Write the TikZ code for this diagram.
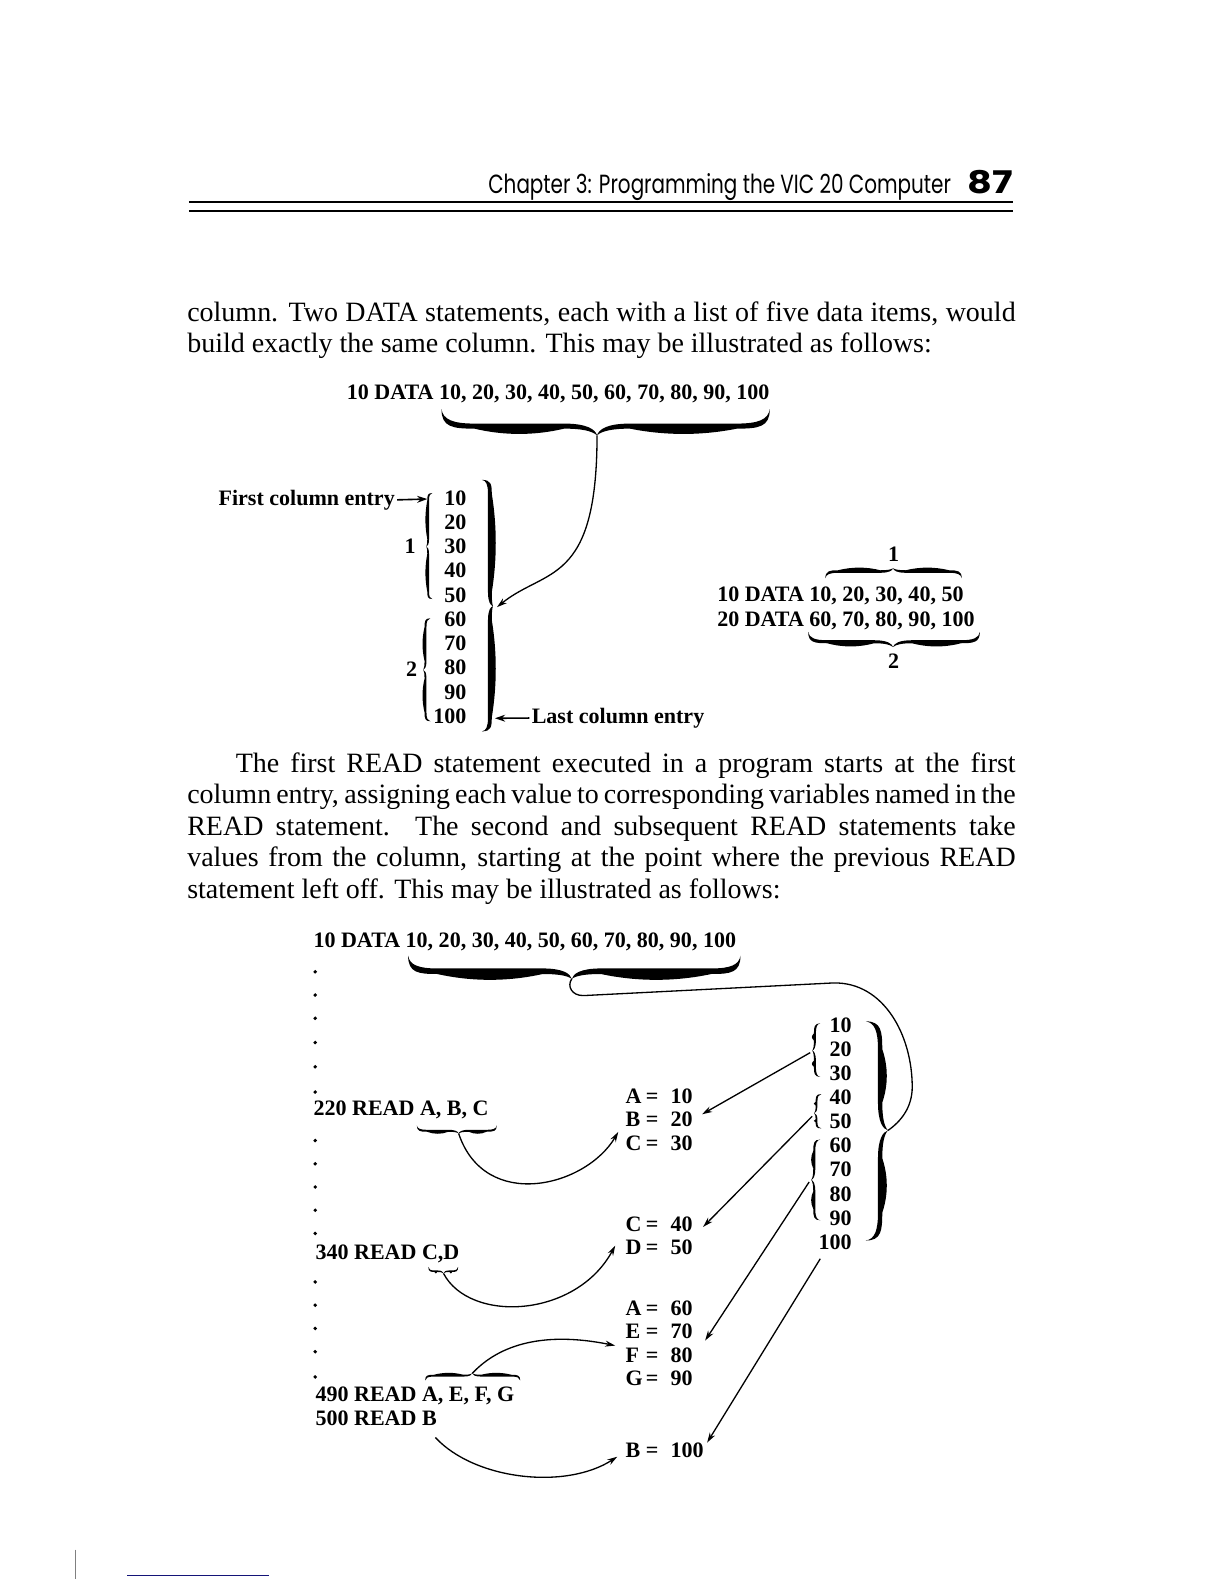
\documentclass[tikz,border=0pt]{standalone}
\usepackage{fontspec}
\setmainfont{Liberation Serif}
\newfontfamily\hdrfont{Poppins}
\usetikzlibrary{arrows.meta,calc}
\definecolor{navyline}{RGB}{20,20,120}

% calligraphic brace in local coords: from (0,0) to (L,0), tip at (M,H), max thickness T
\newcommand\zcbr[4]{%
 \pgfmathsetmacro\zzL{#1}%
 \pgfmathsetmacro\zzM{#2}%
 \pgfmathsetmacro\zzH{#3}%
 \pgfmathsetmacro\zzSg{ifthenelse(\zzH>0,1,-1)}%
 \pgfmathsetmacro\zzS{\zzSg*0.5*(#4)}%
 \pgfmathsetmacro\zzW{\zzSg*0.7*(#4)}%
 \pgfmathsetmacro\zzKa{min(1.25*abs(\zzH),0.4*\zzM)}%
 \pgfmathsetmacro\zzKb{min(1.25*abs(\zzH),0.4*(\zzL-\zzM))}%
 \pgfmathsetmacro\zzY{0.55*\zzH}%
 \pgfmathsetmacro\zzYl{\zzY+\zzS}%
 \pgfmathsetmacro\zzYw{\zzYl+\zzW}%
 \pgfmathsetmacro\zzTa{\zzY+0.5*(\zzH-\zzY)}%
 \pgfmathsetmacro\zzTb{\zzYl+0.3*(\zzH-\zzYl)}%
 \pgfmathsetmacro\zzE{0.5*\zzH+\zzS}%
 \pgfmathsetmacro\zzAa{\zzKa+0.33*(\zzM-2*\zzKa)}%
 \pgfmathsetmacro\zzAb{\zzKa+0.67*(\zzM-2*\zzKa)}%
 \pgfmathsetmacro\zzBa{\zzM+\zzKb+0.33*(\zzL-\zzM-2*\zzKb)}%
 \pgfmathsetmacro\zzBb{\zzM+\zzKb+0.67*(\zzL-\zzM-2*\zzKb)}%
 \fill (0,0) .. controls ({0.05*\zzKa},{0.4*\zzH}) and ({0.35*\zzKa},\zzY) .. (\zzKa,\zzY)
  -- ({\zzM-\zzKa},\zzY) .. controls ({\zzM-0.3*\zzKa},\zzY) and ({\zzM-0.05*\zzKa},\zzTa) .. (\zzM,\zzH)
  .. controls ({\zzM+0.05*\zzKb},\zzTa) and ({\zzM+0.3*\zzKb},\zzY) .. ({\zzM+\zzKb},\zzY)
  -- ({\zzL-\zzKb},\zzY) .. controls ({\zzL-0.35*\zzKb},\zzY) and ({\zzL-0.05*\zzKb},{0.4*\zzH}) .. (\zzL,0)
  .. controls (\zzL,\zzE) and ({\zzL-0.35*\zzKb},\zzYl) .. ({\zzL-\zzKb},\zzYl)
  .. controls (\zzBb,\zzYw) and (\zzBa,\zzYw) .. ({\zzM+\zzKb},\zzYl)
  .. controls ({\zzM+0.5*\zzKb},\zzYl) and ({\zzM+0.15*\zzKb},\zzTb) .. (\zzM,\zzH)
  .. controls ({\zzM-0.15*\zzKa},\zzTb) and ({\zzM-0.5*\zzKa},\zzYl) .. ({\zzM-\zzKa},\zzYl)
  .. controls (\zzAb,\zzYw) and (\zzAa,\zzYw) .. (\zzKa,\zzYl)
  .. controls ({0.35*\zzKa},\zzYl) and (0,\zzE) .. (0,0) -- cycle;
}
% horizontal brace: x1, x2, xtip, y, amp (tip y = y+amp), thickness
\newcommand\hbr[6]{\begin{scope}[shift={(#1,#4)}]\zcbr{(#2)-(#1)}{(#3)-(#1)}{#5}{#6}\end{scope}}
% vertical brace: y1, y2, ytip, x, amp (tip x = x+amp), thickness
\newcommand\vbr[6]{\begin{scope}[shift={(#4,#1)},cm={0,-1,-1,0,(0,0)}]\zcbr{(#2)-(#1)}{(#3)-(#1)}{#5}{#6}\end{scope}}

\newcommand\jl[2]{\hbox to #1{\spaceskip=0.25em plus 1fil minus 1fil\relax #2}}
\newcommand\asg[2]{\makebox[10pt][l]{#1}=\hspace{6pt}#2}

\tikzset{
 dtxt/.style={font=\fontsize{10.9}{13}\selectfont\bfseries, inner sep=0pt, anchor=base west},
 dnum/.style={dtxt, anchor=base east},
 dlab/.style={dtxt, anchor=base},
 body/.style={font=\fontsize{13.85}{15.5}\selectfont, inner sep=0pt, anchor=base west},
 conn/.style={line width=0.65pt},
 arr/.style={conn, -{Stealth[length=5pt,width=3pt]}},
 bigarr/.style={line width=0.8pt, -{Stealth[length=5pt,width=3.4pt]}},
 rulel/.style={line width=0.85pt},
 dotm/.style={circle, fill, inner sep=0pt, minimum size=1.9pt}
}

\begin{document}
\begin{tikzpicture}[x=0.5pt,y=-0.5pt]
\useasboundingbox (0,0) rectangle (1212,1568);
\fill[white] (0,0) rectangle (1212,1568);

% ---------- header ----------
\node[anchor=base west, inner sep=0pt] (hdr) at (483,192)
  {\resizebox{229pt}{\height}{\hdrfont\fontsize{13}{15}\selectfont Chapter 3: Programming the VIC 20 Computer}};
\node[anchor=base east, inner sep=0pt] (pgno) at (1003,192)
  {\resizebox{22.5pt}{11.5pt}{\hdrfont\bfseries 87}};
\draw[rulel] (187,200) -- (1003,200);
\draw[rulel] (187,209) -- (1003,209);

% ---------- paragraph 1 ----------
\node[body] (p1a) at (185,318) {\jl{410pt}{column. Two DATA statements, each with a list of five data items, would}};
\node[body] (p1b) at (185,349) {build exactly the same column. This may be illustrated as follows:};

% ---------- diagram 1 ----------
\node[dtxt] (d1data) at (343,395.5) {10 DATA 10, 20, 30, 40, 50, 60, 70, 80, 90, 100};
\hbr{437}{762}{591}{405}{26}{10}
\coordinate (d1tip) at (591,431);

\foreach \v [count=\i] in {10,20,...,100}
  \node[dnum] (ca\i) at (462,{500+24*(\i-1)}) {\v};

\vbr{488}{593}{541}{428}{-6}{3.5}
\node[dlab] (lab1) at (406,548) {1};
\vbr{612}{714}{663}{426}{-7}{3.8}
\node[dlab] (lab2) at (407.5,670) {2};
\vbr{475}{724}{600}{477}{11}{7.5}
\coordinate (d1tgt) at (492,601);
\draw[arr] (d1tip) .. controls (591,580) and (540,562) .. (d1tgt);

\node[dtxt] (fce) at (216,500) {First column entry};
\coordinate (fcend) at (423,494);
\draw[bigarr] ([xshift=1pt]fce.east) -- (fcend);

\node[dtxt] (lce) at (526,716) {Last column entry};
\coordinate (lcend) at (490,711);
\draw[bigarr] ([xshift=-1pt]lce.west) -- (lcend);

\node[dtxt] (r1) at (709.6,595.8) {10 DATA 10, 20, 30, 40, 50};
\node[dtxt] (r2) at (709.6,620.5) {20 DATA 60, 70, 80, 90, 100};
\hbr{817}{952}{884}{572.5}{-10}{5}
\node[dlab] (rl1) at (884.5,556) {1};
\hbr{800}{970}{884}{625.5}{15}{6}
\node[dlab] (rl2) at (884.5,661.5) {2};

% ---------- paragraph 2 ----------
\node[body] (p2a) at (233,764.5) {\jl{386pt}{The first READ statement executed in a program starts at the first}};
\node[body] (p2b) at (185,795.6) {\jl{410pt}{column entry, assigning each value to corresponding variables named in the}};
\node[body] (p2c) at (185,826.7) {\jl{410pt}{READ statement. The second and subsequent READ statements take}};
\node[body] (p2d) at (185,857.8) {\jl{410pt}{values from the column, starting at the point where the previous READ}};
\node[body] (p2e) at (185,889) {statement left off. This may be illustrated as follows:};

% ---------- diagram 2 ----------
\node[dtxt] (d2data) at (310,938) {10 DATA 10, 20, 30, 40, 50, 60, 70, 80, 90, 100};
\hbr{404}{733}{566}{946}{23}{11}
\coordinate (d2tip) at (566,969);

\foreach \yy [count=\i] in {962,985,1008,1032,1056,1081,1129,1152,1175,1198,1221,1269,1292,1315,1338,1363}
  \node[dotm] (dt\i) at (312,\yy) {};

\node[dtxt] (r220) at (310,1104) {220 READ A, B, C};
\node[dtxt] (r340) at (312,1247) {340 READ C,D};
\node[dtxt] (r490) at (312,1387) {490 READ A, E, F, G};
\node[dtxt] (r500) at (312,1411) {500 READ B};

\foreach \v [count=\i] in {10,20,...,100}
  \node[dnum] (cb\i) at (843.4,{1021.6+23.9*(\i-1)}) {\v};

\vbr{1011}{1228}{1119}{857}{22}{8.5}
\coordinate (d2tgt) at (879,1119);
\draw[conn] (d2tip) .. controls (561,976) and (566,986) .. (578,985.5) -- (825,973)
  .. controls (875,972) and (903,1025) .. (903,1076) .. controls (903,1096) and (892,1110) .. (d2tgt);

\vbr{1013}{1066}{1040}{812}{-8}{3.8}
\vbr{1083}{1117}{1102}{813}{-7}{3.5}
\vbr{1128}{1208}{1168}{812}{-9}{4}
\coordinate (sA) at (802,1042);
\coordinate (sB) at (804,1105);
\coordinate (sC) at (801,1170);
\coordinate (s100) at (812,1246);

\node[dtxt] (a1) at (619,1092.5) {\asg{A}{10}};
\node[dtxt] (a2) at (619,1115.5) {\asg{B}{20}};
\node[dtxt] (a3) at (619,1138.6) {\asg{C}{30}};
\node[dtxt] (a4) at (619,1219) {\asg{C}{40}};
\node[dtxt] (a5) at (619,1242) {\asg{D}{50}};
\node[dtxt] (a6) at (619,1302) {\asg{A}{60}};
\node[dtxt] (a7) at (619,1325) {\asg{E}{70}};
\node[dtxt] (a8) at (619,1348.3) {\asg{F}{80}};
\node[dtxt] (a9) at (619,1371.4) {\asg{G}{90}};
\node[dtxt] (a10) at (619,1443) {\asg{B}{100}};

\coordinate (tA) at (695,1103);
\coordinate (tB) at (696,1214.5);
\coordinate (tC) at (698,1327);
\coordinate (tD) at (700,1428);
\draw[arr] (sA) -- (tA);
\draw[arr] (sB) -- (tB);
\draw[arr] (sC) -- (tC);
\draw[arr] (s100) -- (tD);

\hbr{412.6}{491.8}{454}{1114}{8}{3.8}
\coordinate (t220) at (454,1122);
\coordinate (c220) at (612,1120.5);
\draw[arr] (t220) .. controls (480,1200) and (580,1175) .. (c220);

\hbr{424}{453.5}{439}{1254}{6.5}{3}
\coordinate (t340) at (439,1260.5);
\coordinate (c340) at (609,1233);
\draw[arr] (t340) .. controls (465,1310) and (570,1305) .. (c340);

\hbr{420.8}{515}{467.5}{1366.5}{-7}{3.6}
\coordinate (t490) at (467.5,1359.5);
\coordinate (c490) at (609,1332);
\draw[arr] (t490) .. controls (495,1330) and (540,1318) .. (c490);

\coordinate (s500) at (431,1423);
\coordinate (c500) at (611,1442);
\draw[arr] (s500) .. controls (470,1465) and (560,1475) .. (c500);

% ---------- page marks ----------
\draw[gray, line width=0.6pt] (75,1534) -- (75,1563);
\draw[navyline, line width=0.8pt] (126,1559.5) -- (266,1559.5);
\end{tikzpicture}
\end{document}
